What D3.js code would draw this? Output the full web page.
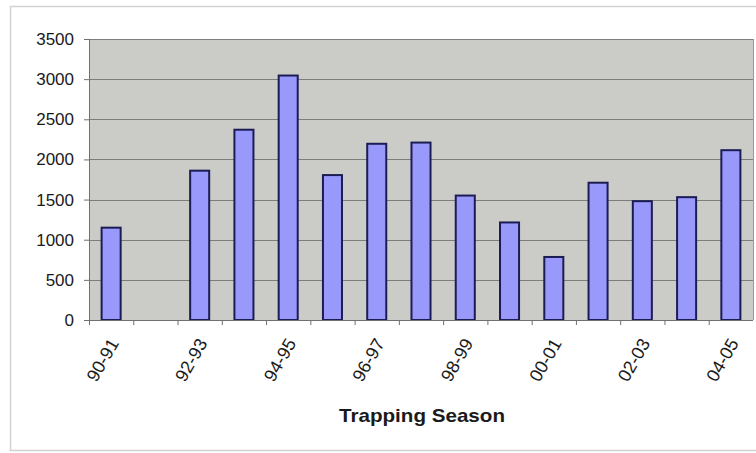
<!DOCTYPE html>
<html>
<head>
<meta charset="utf-8">
<script src="https://cdn.jsdelivr.net/npm/d3@7"></script>
<style>
  html, body { margin: 0; padding: 0; background: #ffffff; }
  svg { display: block; font-family: Arial, "Liberation Sans", sans-serif; }
</style>
</head>
<body>
<svg id="chart" width="756" height="453"></svg>
<script>
// Trapping seasons and counts (91-92 has no record)
const seasons = ["90-91","91-92","92-93","93-94","94-95","95-96","96-97","97-98",
                 "98-99","99-00","00-01","01-02","02-03","03-04","04-05"];
const counts = [1150, null, 1860, 2370, 3045, 1805, 2195, 2210,
                1550, 1215, 785, 1710, 1480, 1530, 2115];
const yTicks = [0, 500, 1000, 1500, 2000, 2500, 3000, 3500];
const labelledSeasons = ["90-91","92-93","94-95","96-97","98-99","00-01","02-03","04-05"];
const xTitle = "Trapping Season";

const svg = d3.select("#chart");
const plot = { left: 89, right: 753, top: 39, bottom: 320 };

// outer chart frame
svg.append("rect")
  .attr("x", 10.5).attr("y", 6.5)
  .attr("width", 760).attr("height", 444)
  .attr("fill", "#ffffff")
  .attr("stroke", "#d2d2d2").attr("stroke-width", 1.5);

const x = d3.scaleBand().domain(seasons).range([plot.left, plot.right]).padding(0);
const y = d3.scaleLinear().domain([0, 3500]).range([plot.bottom, plot.top]);

// plot area background
svg.append("rect")
  .attr("x", plot.left).attr("y", plot.top)
  .attr("width", plot.right - plot.left).attr("height", plot.bottom - plot.top)
  .attr("fill", "#cbcbc8");

// horizontal gridlines
svg.append("g")
  .selectAll("line")
  .data(yTicks.filter(d => d > 0))
  .join("line")
  .attr("x1", plot.left).attr("x2", plot.right)
  .attr("y1", d => Math.round(y(d)) + 0.5).attr("y2", d => Math.round(y(d)) + 0.5)
  .attr("stroke", "#7d7d7d").attr("stroke-width", 1);

// right edge of plot area
svg.append("line")
  .attr("x1", plot.right + 0.5).attr("x2", plot.right + 0.5)
  .attr("y1", plot.top).attr("y2", plot.bottom)
  .attr("stroke", "#9a9a9a");

// bars
const barW = x.step() * 0.43;
svg.append("g")
  .selectAll("rect")
  .data(seasons.map((s, i) => ({ s, v: counts[i] })).filter(d => d.v != null))
  .join("rect")
  .attr("x", d => x(d.s) + (x.bandwidth() - barW) / 2)
  .attr("y", d => y(d.v))
  .attr("width", barW)
  .attr("height", d => y(0) - y(d.v))
  .attr("fill", "#9999fb")
  .attr("stroke", "#1c1c55")
  .attr("stroke-width", 2);

// y axis
const yAxis = d3.axisLeft(y).tickValues(yTicks).tickSize(5).tickPadding(10)
  .tickFormat(d3.format("d"));
const gy = svg.append("g").attr("transform", `translate(${plot.left},0)`).call(yAxis);
gy.select(".domain").attr("stroke", "#707070");
gy.selectAll(".tick line").attr("stroke", "#707070");
gy.selectAll(".tick text")
  .attr("font-size", 17).attr("fill", "#1a1a1a")
  .attr("font-family", "Arial, 'Liberation Sans', sans-serif");

// x axis: ticks at category boundaries
svg.append("line")
  .attr("x1", plot.left).attr("x2", plot.right)
  .attr("y1", plot.bottom + 0.5).attr("y2", plot.bottom + 0.5)
  .attr("stroke", "#707070");
svg.append("g")
  .selectAll("line")
  .data(seasons)
  .join("line")
  .attr("x1", d => x(d) + 0.5).attr("x2", d => x(d) + 0.5)
  .attr("y1", plot.bottom).attr("y2", plot.bottom + 5)
  .attr("stroke", "#707070");

// rotated season labels
svg.append("g")
  .selectAll("text")
  .data(labelledSeasons)
  .join("text")
  .attr("transform", d => `translate(${x(d) + x.bandwidth() / 2 + 3},${plot.bottom + 20}) rotate(-60)`)
  .attr("text-anchor", "end")
  .attr("dy", "0.35em")
  .attr("font-size", 18)
  .attr("fill", "#1a1a1a")
  .text(d => d);

// axis title
svg.append("text")
  .attr("x", 422).attr("y", 422)
  .attr("text-anchor", "middle")
  .attr("font-size", 19).attr("font-weight", "bold")
  .attr("textLength", 166).attr("lengthAdjust", "spacingAndGlyphs")
  .attr("fill", "#1a1a1a")
  .text(xTitle);
</script>
</body>
</html>
